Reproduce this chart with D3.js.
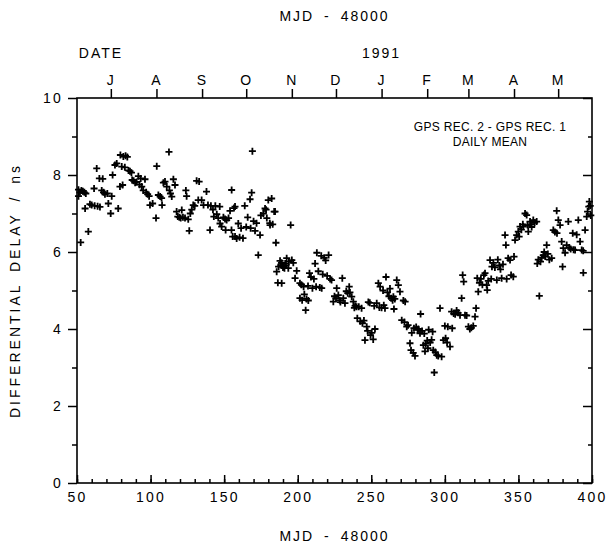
<html>
<head>
  <style type="text/css">
    body { margin: 0; background: #fff; }
    text { font-family: "Liberation Sans", Arial, sans-serif; fill: #000; }
    .axis text { font-size: 14px; letter-spacing: 2.2px; }
    .axis line { stroke: #000; stroke-width: 1.5; }
    .axis path.domain { display: none; }
  </style>
</head>
<body>
  <div id="viz">
    <svg width="609" height="547"></svg>
  </div>
  <script src="https://cdnjs.cloudflare.com/ajax/libs/d3/7.8.5/d3.min.js"></script>
  <script>
  // tick values / labels
  const xMajor = [50, 100, 150, 200, 250, 300, 350, 400];
  const xMinor = d3.range(50, 401, 10);
  const yMajor = [0, 2, 4, 6, 8, 10];
  const yMinor = [1, 3, 5, 7, 9];
  // first day of each month, as MJD - 48000 (Jul 1990 .. May 1991)
  const monthMjd = [73, 104, 135, 165, 196, 226, 257, 288, 316, 347, 377];
  const monthLabels = ['J', 'A', 'S', 'O', 'N', 'D', 'J', 'F', 'M', 'A', 'M'];

  // daily mean: [MJD - 48000, differential delay in ns]
  const dailyMeans = [
    [51,7.62],[51,7.45],[52,7.55],[52.5,6.25],[53,7.6],[54,7.58],[55,7.55],[55.5,7.13],[56,7.52],[57.7,6.53],
    [58.8,7.24],[60,7.22],[61.6,7.65],[62,7.2],[63.4,8.17],[64,7.19],[65.2,7.91],[65.6,7.17],[66.8,7.6],[67.5,7.9],
    [68,7.55],[69,7.5],[70.6,7.52],[71.3,7.26],[72.9,7.0],[73.6,7.45],[74.2,8.0],[75.8,8.26],[77,8.3],[78,7.13],
    [79.2,7.7],[79.5,8.52],[80.4,8.22],[81,7.74],[81.5,8.48],[82.5,8.2],[83,8.5],[84.2,8.47],[85,8.12],[86,8.1],
    [87,8.06],[87.5,7.87],[88.5,7.85],[89.5,7.8],[90.5,7.82],[91.7,7.97],[92.5,7.75],[93.3,7.91],[94,7.7],[95,7.6],
    [96.2,7.89],[97,7.55],[98,7.5],[99,7.45],[99.6,7.22],[101.4,7.26],[103.7,6.88],[104.2,8.23],[105.3,7.48],[106.5,7.44],
    [107.5,7.4],[107.8,7.22],[108.7,7.8],[109.8,7.83],[111,7.7],[112.5,8.6],[112.8,7.6],[113.5,7.52],[114.4,7.44],[115.5,7.89],
    [116.6,7.74],[117.7,7.05],[118.5,6.92],[119.5,6.9],[120.5,6.88],[121.2,7.09],[122,6.9],[123.4,6.88],[124,7.6],[124.5,7.45],
    [125.6,6.85],[126.3,6.55],[127,7.0],[128,7.1],[129,7.22],[130,7.2],[131.3,7.85],[132.4,7.35],[133,7.83],[134.7,7.35],
    [136,7.22],[138,7.57],[139,7.22],[140.4,6.57],[141,7.2],[142.4,7.1],[143,6.92],[144,7.2],[145,6.98],[146,6.88],
    [147,7.18],[147.2,6.74],[148.3,6.66],[149.5,6.9],[150.6,6.86],[151,6.57],[151.7,6.83],[153,6.88],[154,7.07],[155,6.57],
    [155.1,7.61],[155.8,6.4],[156.7,7.14],[157.4,7.18],[157.4,6.4],[158.5,6.35],[159.6,6.74],[160.5,6.38],[161.5,6.62],[162.8,6.36],
    [164,7.2],[165,6.65],[166,6.9],[167.6,7.37],[168,6.62],[168.7,7.54],[169.2,8.62],[170,6.8],[171,6.55],[172,6.75],
    [173.2,5.92],[174.4,6.44],[175,6.95],[176.6,7.0],[177.8,7.13],[178.5,7.1],[179,6.88],[180,7.35],[181,6.75],[181.2,6.7],
    [182.3,7.39],[183,6.72],[184,7.05],[184.6,7.05],[185.2,6.24],
    [185.7,5.49],[186.5,5.2],[187,5.62],[188,5.77],[188.5,5.66],[189,5.72],[189.1,5.19],[190,5.6],[190.5,5.62],[191,5.58],
    [191.5,5.7],[192,5.65],[192.5,5.84],[193.6,5.58],[194,5.75],[195.2,6.7],[196,5.79],[197,5.72],[198.2,5.32],[199.3,5.51],
    [201.5,5.19],[201.5,4.8],[202.5,5.15],[203,4.75],[204,5.1],[204.5,4.9],[205.4,4.49],[206,4.78],[207,5.12],[207.2,4.74],
    [208,5.45],[209,5.35],[210,5.06],[211,5.3],[211.8,5.7],[212.5,5.1],[213,5.98],[214,5.5],[215,5.08],[216,5.9],
    [216.3,5.06],[217,5.42],[218,5.85],[219,5.78],[220,5.38],[221,5.92],[222,5.3],[223,5.27],[224.2,4.71],[225,4.85],
    [226,4.8],[226.5,5.06],[227.6,4.88],[228.5,4.75],[229,4.7],[230.3,5.32],[231,4.8],[232.1,4.67],[233,4.98],[234,4.93],
    [235,5.1],[235.5,4.95],[236.7,4.84],[237.8,4.71],[238.5,4.55],[239,4.6],[240,4.58],[240.5,4.28],[241.5,4.58],[242.5,4.2],
    [243.4,4.54],[244,4.15],[245,4.22],[245.7,3.71],[246.9,4.06],[247.5,3.95],[248,4.7],[249,4.68],[249.5,3.84],[250.3,3.9],
    [251.3,3.73],[252,4.6],[252.5,4.0],[253.7,4.67],[254.8,5.19],[255.5,4.56],[256,5.1],[257,4.55],[258,5.0],[258.5,4.62],
    [259.3,4.54],[260,5.35],[261,4.95],[262,4.85],[262.7,5.05],[263.5,4.8],[264.5,4.75],
    [265,4.84],[265.4,4.52],[266,4.78],[267.3,5.27],[268.4,5.14],[269.5,4.97],[270.7,4.23],[271.8,4.74],[272.5,4.18],[273,4.71],
    [274.1,4.06],[275,4.1],[276.3,3.63],[277,3.45],[277.5,3.9],[278.5,3.38],[279,4.02],[279.7,3.3],[280.5,4.05],[281.5,3.98],
    [282,4.0],[283.1,3.89],[283.5,4.39],[284.5,3.95],[285.4,3.58],[286,3.88],[286.5,3.42],[287,3.62],[288,3.7],[288.5,3.5],
    [289,3.98],[290,3.65],[291,3.72],[291.7,3.93],[292.1,3.45],[292.8,2.87],[293.5,3.4],[294.5,3.32],[295.5,3.3],[296.7,4.54],
    [297.8,3.28],[299,3.71],[300,4.08],[300.5,3.76],[301.5,3.65],[302,4.06],[303.5,3.54],[304.6,4.45],[305,4.02],[306,4.4],
    [307,4.38],[308,4.48],[309,4.42],[310.3,4.36],[311.4,4.8],[312.1,5.4],[312.8,5.23],[313.7,4.36],[314.8,4.35],[316,4.06],
    [317,4.0],[318,4.03],[319.3,4.08],[320.5,4.32],[321.2,4.54],[322,5.32],[322.7,4.97],[323.5,5.2],[324.5,5.3],[325.5,5.15],
    [326.5,5.4],[327.3,5.45],[328.4,5.14],[328.8,5.01],[329.5,5.25],[330.7,5.79],[331.5,5.3],[332,5.62],[333,5.72],[334,5.6],
    [335.3,5.27],[336,5.8],[337,5.65],[337.8,5.55],[338.6,5.32],[339.5,5.68],[340.9,6.44],[341.5,6.18],[342,5.3],[343,5.84],
    [344.3,5.79],[345,5.4],[346.5,5.36],[347,5.88],
    [347.7,6.31],[348.8,6.44],[349.9,6.53],[350.5,6.4],[351.1,6.66],[352,6.58],[353,6.72],[353.3,6.66],[354.5,7.0],[355.6,6.96],
    [356.2,6.7],[356.7,6.53],[357.9,6.79],[358.5,6.72],[359,6.65],[360.1,6.83],[361,6.76],[362.4,6.79],[362.8,5.7],[363.5,5.8],
    [364.2,4.86],[365,5.75],[365.8,5.85],[366.9,5.92],[367.5,6.0],[368.2,5.88],[369.2,6.18],[370,5.95],[371,5.8],[372.6,5.84],
    [373.7,6.57],[374.8,6.52],[376,7.07],[376.2,6.49],[377.1,6.83],[378.3,6.7],[379.4,6.27],[380,5.62],[380.5,6.1],[381.7,5.98],
    [382.8,6.18],[383.9,6.79],[384.5,6.12],[385.5,6.08],[386.9,6.49],[387.5,6.06],[388.5,6.05],[389.6,6.45],[390.7,6.83],[391.9,6.27],
    [393,6.05],[394,6.03],[394.1,5.46],[395.3,6.57],[396.4,6.92],[397,7.05],[397.8,7.18],[398.2,7.31],[398.8,7.2],[399.2,6.95]
  ];

  const svg = d3.select("svg");
  const margin = {top: 98, right: 17, bottom: 64, left: 77};
  const width = +svg.attr("width") - margin.left - margin.right;
  const height = +svg.attr("height") - margin.top - margin.bottom;

  const x = d3.scaleLinear().domain([50, 400]).range([0, width]);
  const y = d3.scaleLinear().domain([0, 10]).range([height, 0]);

  const g = svg.append("g")
    .attr("transform", "translate(" + margin.left + "," + margin.top + ")");

  // bottom axis: labelled ticks + minor ticks, pointing inward
  g.append("g")
    .attr("class", "axis")
    .attr("transform", "translate(0," + height + ")")
    .call(d3.axisBottom(x).tickValues(xMinor).tickSize(-4).tickFormat(""));
  g.append("g")
    .attr("class", "axis")
    .attr("transform", "translate(0," + height + ")")
    .call(d3.axisBottom(x).tickValues(xMajor).tickSize(-8).tickPadding(9));

  // left axis: ticks outward
  g.append("g")
    .attr("class", "axis")
    .call(d3.axisLeft(y).tickValues(yMinor).tickSize(5).tickFormat(""));
  g.append("g")
    .attr("class", "axis")
    .call(d3.axisLeft(y).tickValues(yMajor).tickSize(9).tickPadding(5));

  // right axis: ticks inward, no labels
  g.append("g")
    .attr("class", "axis")
    .attr("transform", "translate(" + width + ",0)")
    .call(d3.axisRight(y).tickValues(yMinor).tickSize(-4).tickFormat(""));
  g.append("g")
    .attr("class", "axis")
    .attr("transform", "translate(" + width + ",0)")
    .call(d3.axisRight(y).tickValues(yMajor).tickSize(-9).tickFormat(""));

  // top axis: months
  g.append("g")
    .attr("class", "axis")
    .call(d3.axisTop(x).tickValues(monthMjd).tickSize(9).tickPadding(4)
      .tickFormat((d, i) => monthLabels[i]));

  // frame
  g.append("rect")
    .attr("width", width)
    .attr("height", height)
    .attr("fill", "none")
    .attr("stroke", "#000")
    .attr("stroke-width", 1.6);

  // daily means as crosses
  g.append("g")
    .selectAll("path")
    .data(dailyMeans)
    .enter().append("path")
      .attr("transform", d => "translate(" + x(d[0]) + "," + y(d[1]) + ")")
      .attr("d", "M-3.5,0H3.5M0,-3.5V3.5")
      .attr("stroke", "#000")
      .attr("stroke-width", 1.8)
      .attr("fill", "none");

  // titles
  const title = (t, tx, ty, rot) => {
    const el = svg.append("text")
      .attr("x", tx)
      .attr("y", ty)
      .attr("text-anchor", "middle")
      .style("font-size", "14px")
      .style("letter-spacing", "2px")
      .style("word-spacing", "4px")
      .text(t);
    if (rot) el.attr("transform", "rotate(-90," + tx + "," + ty + ")");
    return el;
  };

  title("MJD - 48000", margin.left + width / 2, 21);
  title("MJD - 48000", margin.left + width / 2, 541);
  title("DATE", 101, 58);
  title("1991", margin.left + x(257), 58);
  title("DIFFERENTIAL DELAY / ns", 20, margin.top + height / 2, true)
    .style("letter-spacing", "3px");
  title("GPS REC. 2 - GPS REC. 1", 490, 131)
    .style("font-size", "12px").style("letter-spacing", "0.3px").style("word-spacing", "0px");
  title("DAILY MEAN", 490, 146)
    .style("font-size", "12px").style("letter-spacing", "0.3px").style("word-spacing", "0px");
  </script>
</body>
</html>
